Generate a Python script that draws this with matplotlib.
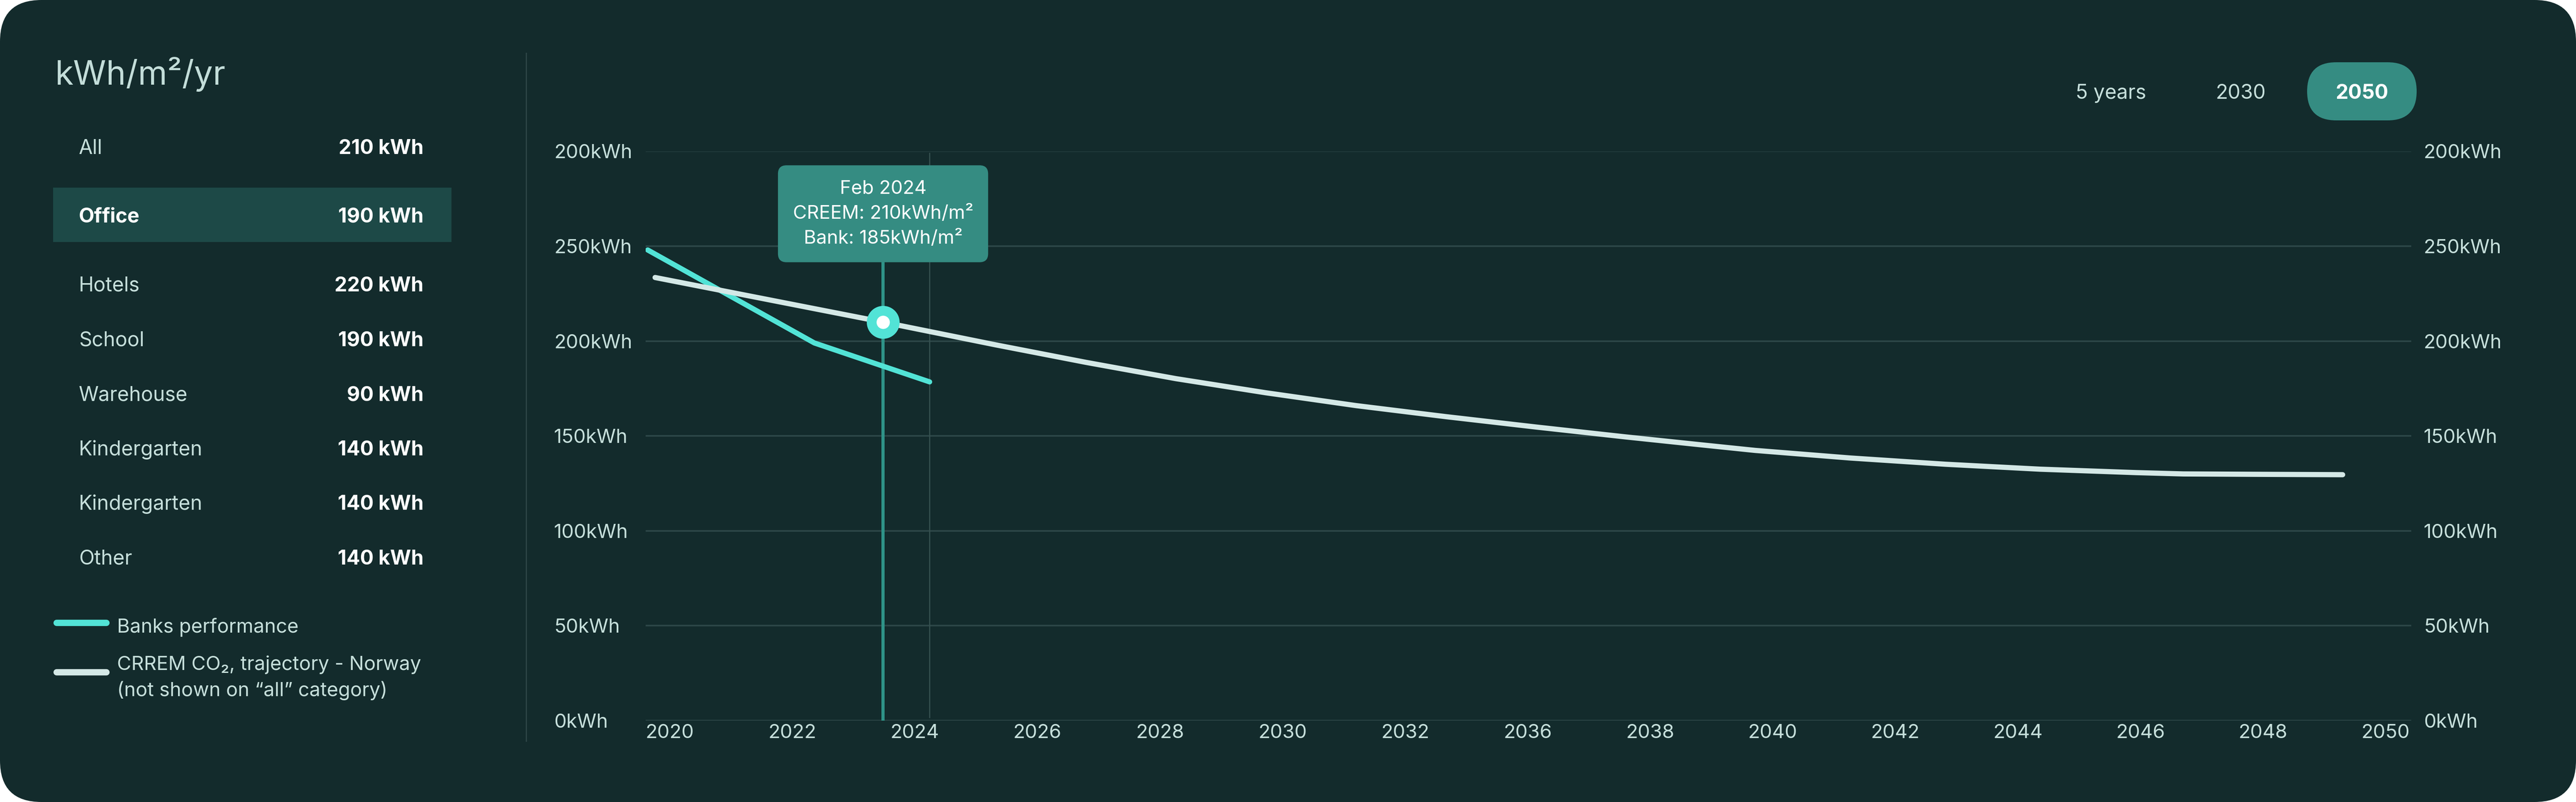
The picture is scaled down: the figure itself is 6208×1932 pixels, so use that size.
import matplotlib.pyplot as plt
from matplotlib.patches import FancyBboxPatch, Rectangle

plt.rcParams['font.family'] = ['Inter', 'DejaVu Sans']

# --- data ---
categories = ['All', 'Office', 'Hotels', 'School', 'Warehouse',
              'Kindergarten', 'Kindergarten', 'Other']
category_kwh = [210, 190, 220, 190, 90, 140, 140, 140]
selected = 1

x_labels = ['2020', '2022', '2024', '2026', '2028', '2030', '2032', '2036',
            '2038', '2040', '2042', '2044', '2046', '2048', '2050']
y_ticks = [0, 50, 100, 150, 200, 250, 300]
y_labels = ['0kWh', '50kWh', '100kWh', '150kWh', '200kWh', '250kWh', '200kWh']

# positions along the category axis (label index units)
bank_x = [-0.18, 1.18, 2.12]
bank_y = [248, 199, 178.5]

crrem_x = [-0.12, 1.74, 2.66, 3.395, 4.13, 4.86, 5.6, 6.33, 7.07, 7.8,
           8.42, 8.855, 9.63, 10.41, 11.18, 11.96, 12.35, 12.93, 13.65]
crrem_y = [233.5, 210, 198, 188.8, 180.2, 172.8, 166, 160.2, 154.7, 149.5,
           145.3, 142.4, 138.4, 135.1, 132.5, 130.7, 130, 129.8, 129.6]

hover_x, hover_y = 1.74, 210
tooltip_lines = ['Feb 2024', 'CREEM: 210kWh/m²', 'Bank: 185kWh/m²']

periods = ['5 years', '2030', '2050']
active_period = 2

# --- colours ---
BG = '#132b2c'
HIGHLIGHT = '#1d4947'
TEAL = '#52e3d6'
TEAL_DARK = '#358c82'
LINE_WHITE = '#d4e8e6'
GRID = '#2d4748'
TXT = '#c6dfdb'

W, H = 6208, 1932
fig = plt.figure(figsize=(W / 100, H / 100), dpi=100)
fig.patch.set_facecolor('white')

# background / side panel drawn in pixel coordinates
bg = fig.add_axes([0, 0, 1, 1])
bg.set_xlim(0, W)
bg.set_ylim(H, 0)
bg.axis('off')
bg.add_patch(FancyBboxPatch((0, 0), W, H, boxstyle='round,pad=0,rounding_size=100',
                            fc=BG, ec='none'))

bg.text(133, 204, 'kWh/m²/yr', fontsize=58, color='#c3ddd9', va='baseline')

row_baselines = [371, 535, 702, 833, 965, 1097, 1228, 1360]
bg.add_patch(Rectangle((128, 452), 960, 131, fc=HIGHLIGHT, ec='none'))
for i, (name, val) in enumerate(zip(categories, category_kwh)):
    yb = row_baselines[i]
    is_sel = i == selected
    bg.text(190, yb, name, fontsize=35, va='baseline',
            color='white' if is_sel else TXT,
            fontweight='bold' if is_sel else 'normal')
    bg.text(1021, yb, f'{val} kWh', fontsize=35, va='baseline', ha='right',
            color='white', fontweight='bold')

# legend
bg.plot([136, 256], [1500, 1500], color=TEAL, lw=11, solid_capstyle='round')
bg.plot([136, 256], [1619, 1619], color=LINE_WHITE, lw=11, solid_capstyle='round')
bg.text(282, 1524, 'Banks performance', fontsize=34, color=TXT, va='baseline')
bg.text(282, 1614, 'CRREM CO₂, trajectory - Norway', fontsize=34, color=TXT, va='baseline')
bg.text(282, 1677, '(not shown on “all” category)', fontsize=34, color=TXT, va='baseline')

# divider
bg.plot([1268, 1268], [128, 1785], color='#2c4445', lw=2.2)

# period buttons
button_cx = [5087, 5400, 5692]
bg.add_patch(FancyBboxPatch((5560, 150), 264, 140, boxstyle='round,pad=0,rounding_size=70',
                            fc=TEAL_DARK, ec='none'))
for i, (lab, cx) in enumerate(zip(periods, button_cx)):
    act = i == active_period
    bg.text(cx, 238, lab, fontsize=35, ha='center', va='baseline',
            color='white' if act else TXT, fontweight='bold' if act else 'normal')

# --- chart ---
L, R, T, B = 1556, 5811, 364.5, 1736
ax = fig.add_axes([L / W, 1 - B / H, (R - L) / W, (B - T) / H])
ax.set_facecolor('none')
ax.set_xlim(-0.197, 14.21)
ax.set_ylim(0, 300)
for s in ax.spines.values():
    s.set_visible(False)

ax.set_yticks(y_ticks, y_labels)
ax.set_xticks(range(len(x_labels)), x_labels)
ax.grid(axis='y', color=GRID, lw=2.8)
ax.grid(axis='x', visible=False)
ax.set_axisbelow(True)
ax.tick_params(axis='y', length=0, pad=159, labelsize=34, labelcolor=TXT)
ax.tick_params(axis='x', length=0, pad=6, labelsize=34, labelcolor=TXT)
for lbl in ax.get_yticklabels():
    lbl.set_ha('left')

ax2 = ax.twinx()
ax2.set_ylim(0, 300)
ax2.set_yticks(y_ticks, y_labels)
ax2.tick_params(axis='y', length=0, pad=21.6, labelsize=34, labelcolor=TXT)
for s in ax2.spines.values():
    s.set_visible(False)

ax.axvline(bank_x[-1], ymin=0.006, ymax=0.997, color='#35504f', lw=2, zorder=1)
ax.axvline(hover_x, ymin=0, ymax=0.805, color='#2f9488', lw=5.5, zorder=2)

ax.plot(bank_x, bank_y, color=TEAL, lw=9, solid_capstyle='round',
        solid_joinstyle='round', zorder=3)
ax.plot(crrem_x, crrem_y, color=LINE_WHITE, lw=9, solid_capstyle='round',
        solid_joinstyle='round', zorder=4)

ax.plot([hover_x], [hover_y], 'o', ms=57, mfc=TEAL, mec='none', zorder=5)
ax.plot([hover_x], [hover_y], 'o', ms=23, mfc='white', mec='none', zorder=6)

ax.annotate('\n'.join(tooltip_lines), xy=(hover_x, hover_y), xytext=(0, 261),
            textcoords='offset pixels', ha='center', va='center', fontsize=33,
            color='white', linespacing=1.5, zorder=7,
            bbox=dict(boxstyle='round,pad=0.78,rounding_size=0.45', fc=TEAL_DARK, ec='none'))

fig.savefig('out.png', dpi=100, facecolor=fig.get_facecolor())
